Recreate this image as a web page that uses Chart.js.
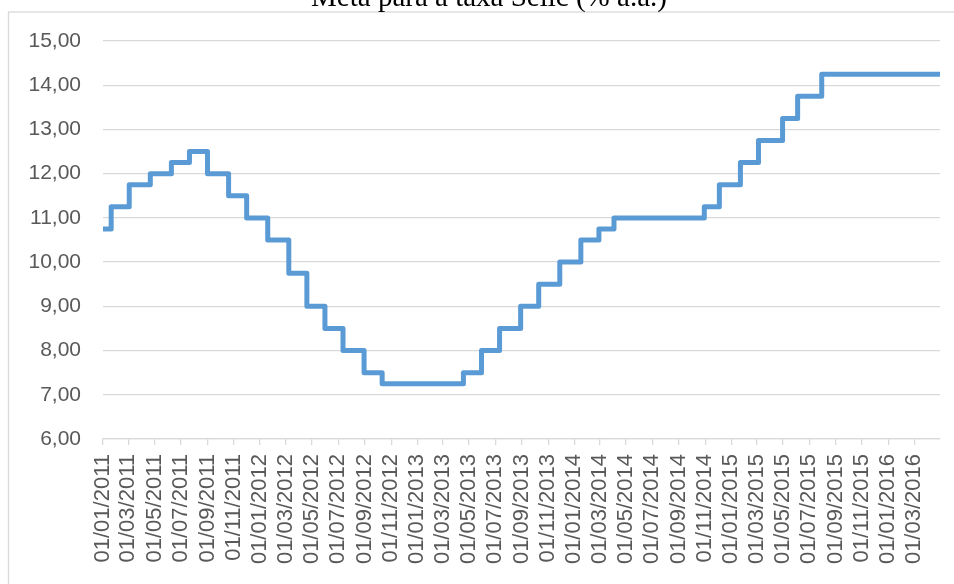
<!DOCTYPE html>
<html>
<head>
<meta charset="utf-8">
<script src="https://cdn.jsdelivr.net/npm/chart.js@4/dist/chart.umd.min.js"></script>
<style>
  body { margin: 0; background: #fff; }
  canvas { display: block; }
</style>
</head>
<body>
<canvas id="selicChart" width="954" height="584"></canvas>
<script>
const chartTitle = 'Meta para a taxa Selic (% a.a.)';

// datas de vigência da meta (dd/mm/aaaa) e valor em % a.a.
const dates = ['01/01/2011', '20/01/2011', '03/03/2011', '21/04/2011', '09/06/2011', '21/07/2011',
    '01/09/2011', '20/10/2011', '01/12/2011', '19/01/2012', '08/03/2012', '19/04/2012',
    '31/05/2012', '12/07/2012', '30/08/2012', '11/10/2012', '18/04/2013', '30/05/2013',
    '11/07/2013', '29/08/2013', '10/10/2013', '28/11/2013', '16/01/2014', '27/02/2014',
    '03/04/2014', '30/10/2014', '04/12/2014', '22/01/2015', '05/03/2015', '30/04/2015',
    '04/06/2015', '30/07/2015', '30/04/2016'];
const rates = [10.75, 11.25, 11.75, 12.00, 12.25, 12.50,
    12.00, 11.50, 11.00, 10.50, 9.75, 9.00,
    8.50, 8.00, 7.50, 7.25, 7.50, 8.00,
    8.50, 9.00, 9.50, 10.00, 10.50, 10.75,
    11.00, 11.25, 11.75, 12.25, 12.75, 13.25,
    13.75, 14.25, 14.25];

const tickLabels = ['01/01/2011', '01/03/2011', '01/05/2011', '01/07/2011', '01/09/2011', '01/11/2011',
    '01/01/2012', '01/03/2012', '01/05/2012', '01/07/2012', '01/09/2012', '01/11/2012',
    '01/01/2013', '01/03/2013', '01/05/2013', '01/07/2013', '01/09/2013', '01/11/2013',
    '01/01/2014', '01/03/2014', '01/05/2014', '01/07/2014', '01/09/2014', '01/11/2014',
    '01/01/2015', '01/03/2015', '01/05/2015', '01/07/2015', '01/09/2015', '01/11/2015',
    '01/01/2016', '01/03/2016'];

const yMin = 6;
const yMax = 15;

function toDay(s) {
    const [d, m, y] = s.split('/').map(Number);
    return (Date.UTC(y, m - 1, d) - Date.UTC(2011, 0, 1)) / 86400000;
}

const points = dates.map((d, i) => ({ x: toDay(d), y: rates[i] }));
const gridColor = '#d9d9d9';
const labelFont = { family: '"Liberation Sans", Arial, sans-serif', size: 21 };

const framePlugin = {
    id: 'frame',
    beforeDraw(chart) {
        const ctx = chart.ctx;
        ctx.save();
        ctx.fillStyle = '#fff';
        ctx.fillRect(0, 0, chart.width, chart.height);
        ctx.strokeStyle = gridColor;
        ctx.lineWidth = 1.3;
        ctx.strokeRect(8.5, 12, chart.width + 10, chart.height + 10);
        ctx.restore();
    },
    afterDraw(chart) {
        const ctx = chart.ctx;
        ctx.save();
        ctx.fillStyle = '#000';
        ctx.font = '29px "Liberation Serif", "Times New Roman", serif';
        ctx.textAlign = 'center';
        ctx.textBaseline = 'alphabetic';
        ctx.fillText(chartTitle, 489, 6);
        ctx.restore();
    }
};

const ctx = document.getElementById('selicChart').getContext('2d');
const selicChart = new Chart(ctx, {
    type: 'line',
    data: {
        datasets: [{
            label: chartTitle,
            data: points,
            borderColor: '#5b9bd5',
            borderWidth: 5,
            borderJoinStyle: 'round',
            borderCapStyle: 'round',
            stepped: 'before',
            pointRadius: 0,
            fill: false
        }]
    },
    options: {
        responsive: false,
        animation: false,
        layout: { padding: { left: 0, top: 41, right: 14, bottom: 0 } },
        plugins: {
            legend: { display: false },
            tooltip: { enabled: false },
            title: { display: false }
        },
        scales: {
            x: {
                type: 'linear',
                min: toDay(dates[0]),
                max: toDay(dates[dates.length - 1]),
                afterBuildTicks: (scale) => {
                    scale.ticks = tickLabels.map(t => ({ value: toDay(t) }));
                },
                afterFit: (scale) => { scale.height = 145; },
                grid: {
                    drawOnChartArea: false,
                    drawTicks: true,
                    tickLength: 6,
                    color: gridColor,
                    lineWidth: 1.3
                },
                border: { color: gridColor, width: 1.3 },
                ticks: {
                    autoSkip: false,
                    minRotation: 90,
                    maxRotation: 90,
                    padding: 9,
                    color: '#595959',
                    font: { family: labelFont.family, size: 22 },
                    callback: (v, i) => tickLabels[i]
                }
            },
            y: {
                min: yMin,
                max: yMax,
                afterFit: (scale) => { scale.width = 103; },
                grid: {
                    drawTicks: false,
                    color: gridColor,
                    lineWidth: 1.3
                },
                border: { display: false },
                ticks: {
                    stepSize: 1,
                    padding: 22,
                    color: '#595959',
                    font: labelFont,
                    callback: (v) => v.toFixed(2).replace('.', ',')
                }
            }
        }
    },
    plugins: [framePlugin]
});
</script>
</body>
</html>
